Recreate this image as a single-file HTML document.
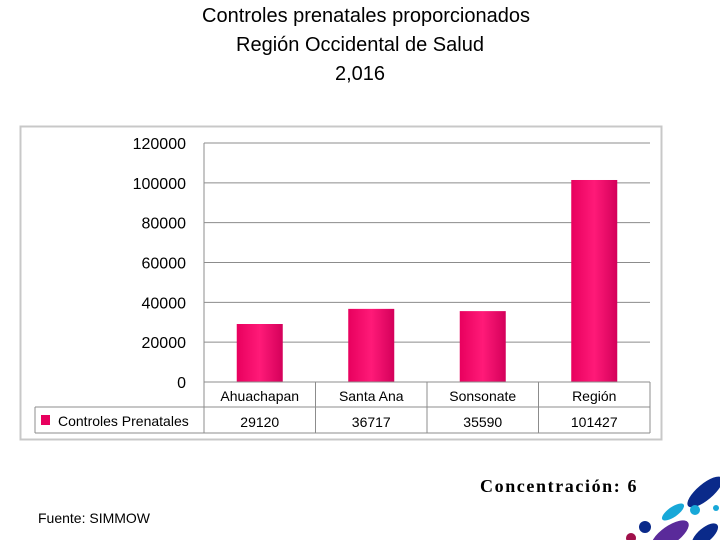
<!DOCTYPE html>
<html><head><meta charset="utf-8"><style>
body{margin:0;width:720px;height:540px;background:#fff;position:relative;overflow:hidden;font-family:"Liberation Sans",sans-serif}
.t{position:absolute;left:0;width:720px;text-align:center;font-size:20px;color:#000}
</style></head><body>
<div class="t" style="top:5px;left:6px">Controles prenatales proporcionados</div>
<div class="t" style="top:34px;">Región Occidental de Salud</div>
<div class="t" style="top:63px;">2,016</div>
<svg id="c" width="720" height="540" style="position:absolute;left:0;top:0">
<defs><linearGradient id="g" x1="0" x2="1"><stop offset="0" stop-color="#e8005e"/><stop offset="0.5" stop-color="#ff1a78"/><stop offset="1" stop-color="#d4005a"/></linearGradient></defs>
<rect x="20.5" y="126.5" width="641" height="313" fill="#fff" stroke="#c8c8c8" stroke-width="2"/>
</svg>
<div style="position:absolute;left:480px;top:476px;font-family:'Liberation Serif',serif;font-size:18px;font-weight:bold;letter-spacing:1.6px">Concentración: 6</div>
<div style="position:absolute;left:38px;top:510px;font-size:14px">Fuente: SIMMOW</div>
<svg width="120" height="100" style="position:absolute;left:600px;top:440px">
<ellipse cx="105" cy="52" rx="22" ry="8" fill="#0a2a8a" transform="rotate(-40 105 52)"/>
<ellipse cx="73" cy="72" rx="13" ry="5" fill="#18a8d8" transform="rotate(-35 73 72)"/>
<circle cx="95" cy="70" r="5" fill="#18a8d8"/><circle cx="116" cy="68" r="3" fill="#18a8d8"/>
<circle cx="45" cy="87" r="6" fill="#0a2a8a"/>
<ellipse cx="70" cy="95" rx="22" ry="9" fill="#5a2a9a" transform="rotate(-35 70 95)"/>
<ellipse cx="105" cy="95" rx="16" ry="7" fill="#0a2a8a" transform="rotate(-40 105 95)"/>
<circle cx="31" cy="98" r="5" fill="#a0104a"/>
</svg>
<script>
const categories=["Ahuachapan","Santa Ana","Sonsonate","Región"];
const values=[29120,36717,35590,101427];
const ticks=[0,20000,40000,60000,80000,100000,120000];
const seriesName="Controles Prenatales";
const NS="http://www.w3.org/2000/svg";
const svg=document.getElementById('c');
const x0=204,x1=650,y0=382,y1=143,max=120000;
const y=v=>y0-(v/max)*(y0-y1);
const cw=(x1-x0)/categories.length;
const xc=i=>x0+cw*(i+0.5);
function mk(t,a){const e=document.createElementNS(NS,t);for(const k in a)e.setAttribute(k,a[k]);svg.appendChild(e);return e;}
ticks.forEach(v=>{
 const l=mk('line',{x1:x0,x2:x1,y1:y(v),y2:y(v),stroke:'#8c8c8c','stroke-width':1});
 
 
 const t=mk('text',{x:186,y:y(v)+6,'text-anchor':'end','font-size':16,fill:'#000','font-family':'Liberation Sans, sans-serif'});
 t.textContent=v;
 
 
});
mk('line',{x1:x0,x2:x0,y1:y1,y2:y0,stroke:'#8c8c8c'});
values.forEach((v,i)=>{
 const b=mk('rect',{x:xc(i)-23,y:y(v),width:46,height:y0-y(v),fill:'url(#g)'});
 
 
});
const tb=[[x0,382,x1,382],[x0,407,x1,407],[35,407,x1,407],[35,433,x1,433],[35,407,35,433],[x1,382,x1,433]];
tb.forEach(a=>mk('line',{x1:a[0],y1:a[1],x2:a[2],y2:a[3],stroke:'#8c8c8c'}));
for(let i=0;i<categories.length;i++){mk('line',{x1:x0+cw*i,x2:x0+cw*i,y1:382,y2:433,stroke:'#8c8c8c'});}
categories.forEach((c,i)=>{
 const t=mk('text',{x:xc(i),y:401,'text-anchor':'middle','font-size':14,fill:'#000'});
 t.textContent=c;
 
 
 const d=mk('text',{x:xc(i),y:427,'text-anchor':'middle','font-size':14,fill:'#000'});
 d.textContent=values[i];
 
 
});
const lk=mk('rect',{x:41,y:415,width:9,height:10,fill:'#e8005e'});


const lt=mk('text',{x:58,y:426,'font-size':14,fill:'#000'});
lt.textContent=seriesName;


</script>
</body></html>
